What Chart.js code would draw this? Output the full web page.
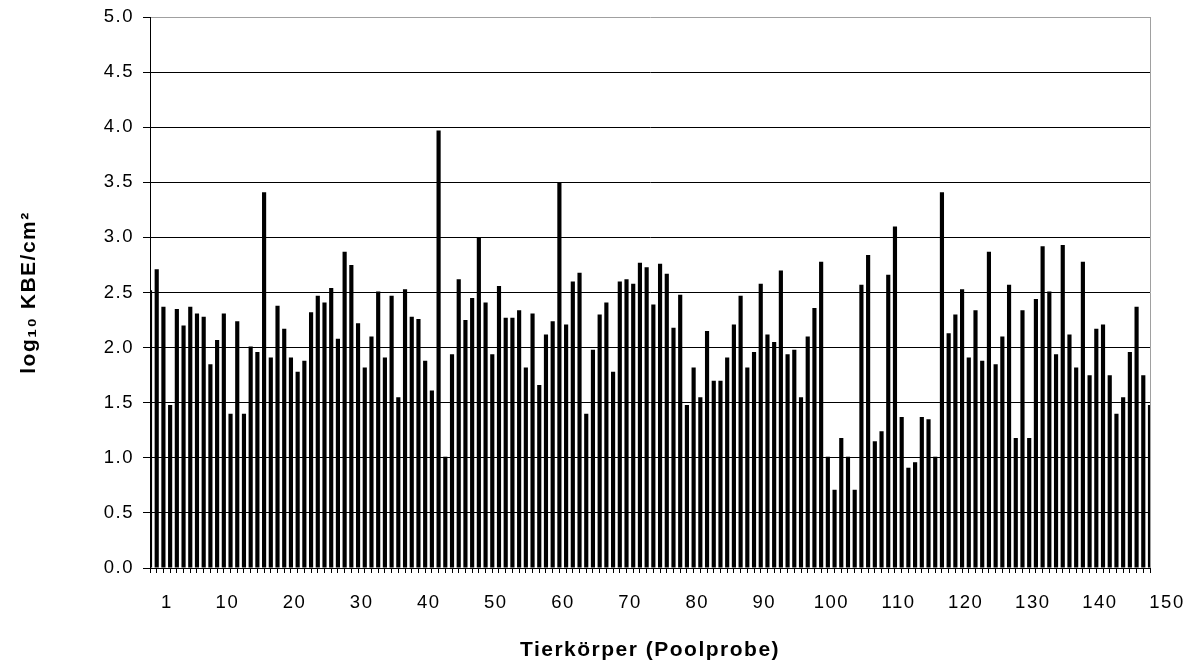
<!DOCTYPE html>
<html>
<head>
<meta charset="utf-8">
<title>KBE Tierkörper</title>
<script src="https://cdn.jsdelivr.net/npm/chart.js@4.4.1/dist/chart.umd.min.js"></script>
<style>
    html, body { margin: 0; padding: 0; background: #ffffff; }
    #wrap { width: 1204px; height: 668px; }
</style>
</head>
<body>
<div id="wrap"><canvas id="graficaKbe" width="1204" height="668"></canvas></div>
<script>
// log10 KBE/cm2 per Tierkörper (Poolprobe), in sample order:
const kbeValues = [
    2.52, 2.71, 2.37, 1.48, 2.35, 2.20, 2.37, 2.31, 2.28, 1.85,
    2.07, 2.31, 1.40, 2.24, 1.40, 2.01, 1.96, 3.41, 1.91, 2.38,
    2.17, 1.91, 1.78, 1.88, 2.32, 2.47, 2.41, 2.54, 2.08, 2.87,
    2.75, 2.22, 1.82, 2.10, 2.51, 1.91, 2.47, 1.55, 2.53, 2.28,
    2.26, 1.88, 1.61, 3.97, 1.01, 1.94, 2.62, 2.25, 2.45, 3.00,
    2.41, 1.94, 2.56, 2.27, 2.27, 2.34, 1.82, 2.31, 1.66, 2.12,
    2.24, 3.50, 2.21, 2.60, 2.68, 1.40, 1.98, 2.30, 2.41, 1.78,
    2.60, 2.62, 2.58, 2.77, 2.73, 2.39, 2.76, 2.67, 2.18, 2.48,
    1.48, 1.82, 1.55, 2.15, 1.70, 1.70, 1.91, 2.21, 2.47, 1.82,
    1.96, 2.58, 2.12, 2.05, 2.70, 1.94, 1.98, 1.55, 2.10, 2.36,
    2.78, 1.01, 0.71, 1.18, 1.01, 0.71, 2.57, 2.84, 1.15, 1.24,
    2.66, 3.10, 1.37, 0.91, 0.96, 1.37, 1.35, 1.01, 3.41, 2.13,
    2.30, 2.53, 1.91, 2.34, 1.88, 2.87, 1.85, 2.10, 2.57, 1.18,
    2.34, 1.18, 2.44, 2.92, 2.51, 1.94, 2.93, 2.12, 1.82, 2.78,
    1.75, 2.17, 2.21, 1.75, 1.40, 1.55, 1.96, 2.37, 1.75, 1.48
];

// Sample numbers (one per bar):
const samples = kbeValues.map((v, i) => String(i + 1));

// Sample numbers printed under the axis:
const xTickLabels = ['1', '10', '20', '30', '40', '50', '60', '70', '80', '90', '100', '110', '120', '130', '140', '150'];

// Value axis range:
const yMin = 0;
const yMax = 5;
const yStep = 0.5;

const fontFamily = "'Liberation Sans', Arial, Helvetica, sans-serif";

// Spaced-out lettering: titles are drawn before the bars, tick labels after them
const letterSpacingPlugin = {
    id: "letterSpacing",
    beforeDraw: function (chart)
    {
        chart.ctx.letterSpacing = "1.5px";
    },
    beforeDatasetsDraw: function (chart)
    {
        chart.ctx.letterSpacing = "1.5px";
    },
    afterDraw: function (chart)
    {
        chart.ctx.letterSpacing = "0px";
    }
};

// Draw bar chart:
function drawChart(canvas)
{
    const ctx = document.getElementById(canvas).getContext("2d");
    const lastIndex = kbeValues.length - 1;

    return new Chart(ctx,
    {
        type: "bar",
        data: {
            labels: samples,
            datasets: [{
                data: kbeValues,
                backgroundColor: "#000000",
                borderWidth: 0,
                barPercentage: 0.62,
                categoryPercentage: 1.0
            }]
        },
        plugins: [letterSpacingPlugin],
        options: {
            responsive: false,
            animation: false,
            devicePixelRatio: 1,
            layout: {
                padding: { top: 17, right: 54, bottom: 0, left: 0 }
            },
            plugins: {
                legend: { display: false },
                tooltip: { enabled: false }
            },
            scales: {
                x: {
                    type: "category",
                    offset: false,
                    grid: {
                        offset: false,
                        drawOnChartArea: true,
                        // only the right frame line shows inside the plot
                        color: (c) => c.index === lastIndex ? "#a0a0a0" : "rgba(0,0,0,0)",
                        tickColor: "#000000",
                        tickLength: 5,
                        lineWidth: 1
                    },
                    border: { color: "#000000", width: 1 },
                    ticks: {
                        z: 1,
                        autoSkip: false,
                        maxRotation: 0,
                        minRotation: 0,
                        color: "#000000",
                        padding: 19,
                        labelOffset: 17,
                        font: { family: fontFamily, size: 18.5 },
                        callback: (value, index) => xTickLabels.includes(samples[index]) ? samples[index] : ""
                    },
                    title: {
                        display: true,
                        text: "Tierkörper (Poolprobe)",
                        color: "#000000",
                        font: { family: fontFamily, size: 21, weight: "bold" },
                        padding: { top: 0, bottom: 5 }
                    },
                    afterFit: (s) =>
                    {
                        s.height = 100;
                        s.paddingLeft = 0;
                        s.paddingRight = 0;
                    }
                },
                y: {
                    min: yMin,
                    max: yMax,
                    ticks: {
                        z: 1,
                        stepSize: yStep,
                        color: "#000000",
                        padding: 9,
                        font: { family: fontFamily, size: 18.5 },
                        callback: (value) => Number(value).toFixed(1)
                    },
                    grid: {
                        color: (c) => c.tick && c.tick.value === yMax ? "#a0a0a0" : "#000000",
                        tickColor: "#000000",
                        tickLength: 7,
                        lineWidth: 1
                    },
                    border: { color: "#000000", width: 1 },
                    title: {
                        display: true,
                        text: "log₁₀ KBE/cm²",
                        color: "#000000",
                        font: { family: fontFamily, size: 21, weight: "bold" },
                        padding: { top: 17, bottom: 0 }
                    },
                    afterFit: (s) =>
                    {
                        s.width = 150;
                        s.paddingTop = 0;
                        s.paddingBottom = 0;
                    }
                }
            }
        }
    });
}

drawChart("graficaKbe");
</script>
</body>
</html>
